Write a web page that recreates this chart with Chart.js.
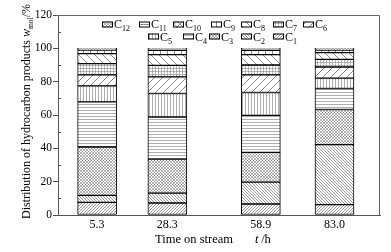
<!DOCTYPE html>
<html><head><meta charset="utf-8">
<script src="https://cdn.jsdelivr.net/npm/chart.js@4.4.0/dist/chart.umd.min.js"></script>
<style>html,body{margin:0;padding:0;background:#fff}#wrap{width:391px;height:252px}</style>
</head><body><div id="wrap"><canvas id="c" width="391" height="252"></canvas></div>
<script>
// ---- data ----
const categories = [5.3, 28.3, 58.9, 83.0];
const tickLabels = ['5.3', '28.3', '58.9', '83.0'];
const yTicks = [0, 20, 40, 60, 80, 100, 120];
const seriesNames = ['C1','C2','C3','C4','C5','C6','C7','C8','C9','C10','C11','C12'];
const C1  = [7.6, 7.2, 6.6, 6.2];
const C2  = [4.2, 5.9, 13.1, 36.0];
const C3  = [29.0, 20.4, 17.9, 21.1];
const C4  = [27.1, 25.3, 22.2, 12.6];
const C5  = [9.6, 14.1, 13.7, 6.2];
const C6  = [6.6, 10.0, 10.6, 6.7];
const C7  = [6.7, 6.9, 5.9, 4.6];
const C8  = [6.0, 6.4, 6.2, 4.0];
const C9  = [2.2, 2.6, 2.6, 1.6];
const C10 = [0.4, 0.5, 0.5, 0.4];
const C11 = [0.3, 0.4, 0.4, 0.3];
const C12 = [0.3, 0.3, 0.3, 0.3];
const seriesValues = [C1, C2, C3, C4, C5, C6, C7, C8, C9, C10, C11, C12];

// ---- patterns ----
function hatch(kinds, s, lw, col) {
  const cv = document.createElement('canvas'); cv.width = s; cv.height = s;
  const g = cv.getContext('2d');
  g.fillStyle = '#fff'; g.fillRect(0, 0, s, s);
  g.strokeStyle = col || '#555'; g.lineWidth = lw || 0.6;
  g.beginPath();
  for (const k of kinds) {
    for (let i = -1; i <= 1; i++) {
      if (k === '/') { g.moveTo(i * s, s); g.lineTo(i * s + s, 0); }
      if (k === '\\') { g.moveTo(i * s, 0); g.lineTo(i * s + s, s); }
    }
    if (k === '-') { g.moveTo(0, s - 0.5); g.lineTo(s, s - 0.5); }
    if (k === '|') { g.moveTo(s - 0.5, 0); g.lineTo(s - 0.5, s); }
  }
  g.stroke();
  return g.createPattern(cv, 'repeat');
}
const patterns = [
  hatch(['/'], 3, 0.6, '#555'),        // C1
  hatch(['\\'], 3, 0.6, '#555'),       // C2
  hatch(['/', '\\'], 3, 0.5, '#666'),  // C3
  hatch(['-'], 3, 0.6, '#777'),        // C4
  hatch(['|'], 3, 0.6, '#777'),        // C5
  hatch(['/'], 8, 0.7, '#555'),        // C6
  hatch(['-', '|'], 3, 0.5, '#777'),   // C7
  hatch(['\\'], 8, 0.7, '#555'),       // C8
  hatch(['|'], 7, 0.7, '#555'),        // C9
  hatch(['/', '\\'], 6, 0.6, '#555'),  // C10
  hatch(['-'], 5, 0.7, '#555'),        // C11
  hatch(['/', '\\'], 3, 0.5, '#666')   // C12
];

const FONT = 'Liberation Serif, Times New Roman, serif';

const datasets = seriesNames.map((n, i) => ({
  label: n,
  data: categories.map((x, j) => ({ x: x, y: seriesValues[i][j] })),
  backgroundColor: patterns[i],
  borderColor: '#000',
  borderWidth: 1,
  borderSkipped: false,
  barThickness: 39
}));

// legend layout (item box left x, row)
const legendLayout = {
  C12: [102, 0], C11: [139, 0], C10: [173, 0], C9: [211, 0], C8: [241, 0], C7: [273, 0], C6: [303, 0],
  C5: [148, 1], C4: [183, 1], C3: [209, 1], C2: [241, 1], C1: [273, 1]
};

const decor = {
  id: 'decor',
  afterDraw(chart) {
    const ctx = chart.ctx, a = chart.chartArea;
    const ys = chart.scales.y;
    ctx.save();
    // frame
    ctx.strokeStyle = '#666'; ctx.lineWidth = 1;
    ctx.beginPath();
    ctx.moveTo(a.left, a.top + 0.5); ctx.lineTo(a.right - 0.5, a.top + 0.5); ctx.lineTo(a.right - 0.5, a.bottom);
    ctx.stroke();
    // minor ticks (inward)
    ctx.strokeStyle = '#555';
    ctx.beginPath();
    for (let v = 10; v < 120; v += 20) {
      const y = Math.round(ys.getPixelForValue(v)) + 0.5;
      ctx.moveTo(a.left, y); ctx.lineTo(a.left + 3, y);
    }
    ctx.stroke();
    // legend
    ctx.fillStyle = '#000';
    ctx.textBaseline = 'alphabetic';
    chart.data.datasets.forEach((ds) => {
      const L = legendLayout[ds.label]; if (!L) return;
      const bx = L[0], row = L[1];
      const by = row === 0 ? 21.5 : 33.5;
      const base = row === 0 ? 28 : 40.5;
      ctx.fillStyle = ds.backgroundColor;
      ctx.fillRect(bx, by, 11, 6);
      ctx.strokeStyle = '#000'; ctx.lineWidth = 1;
      ctx.strokeRect(bx + 0.5, by + 0.5, 10, 5);
      ctx.fillStyle = '#000';
      ctx.font = '12px ' + FONT;
      ctx.fillText('C', bx + 12, base);
      const w = ctx.measureText('C').width;
      ctx.font = '8px ' + FONT;
      ctx.fillText(ds.label.slice(1), bx + 12 + w, base + 3);
    });
    // y title
    ctx.save();
    ctx.translate(30, 111.5);
    ctx.rotate(-Math.PI / 2);
    const parts = [
      ['Distribution of hydrocarbon products ', '12px ' + FONT, 0],
      ['w', 'italic 12px ' + FONT, 0],
      ['mol', '7.5px ' + FONT, 3],
      ['/%', '12px ' + FONT, 0]
    ];
    let tot = 0;
    parts.forEach(p => { ctx.font = p[1]; p.push(ctx.measureText(p[0]).width); tot += p[3]; });
    let x = -tot / 2;
    parts.forEach(p => { ctx.font = p[1]; ctx.fillText(p[0], x, p[2]); x += p[3]; });
    ctx.restore();
    // x title
    ctx.font = '12.5px ' + FONT;
    ctx.fillText('Time on stream', 155, 243);
    ctx.font = 'italic 12.5px ' + FONT;
    ctx.fillText('t', 255, 243);
    ctx.font = '12.5px ' + FONT;
    ctx.fillText(' /h', 258, 243);
    ctx.restore();
  }
};

new Chart(document.getElementById('c'), {
  type: 'bar',
  data: { datasets },
  options: {
    responsive: false,
    animation: false,
    devicePixelRatio: 1,
    layout: { padding: { left: 0, right: 11, top: 15, bottom: 0 } },
    plugins: { legend: { display: false }, tooltip: { enabled: false } },
    scales: {
      x: {
        type: 'linear', stacked: true, min: -7.5, max: 97.9, offset: false,
        afterBuildTicks: s => { s.ticks = categories.map(v => ({ value: v })); },
        ticks: {
          autoSkip: false, maxRotation: 0, padding: 3, color: '#000',
          font: { family: FONT, size: 12 },
          callback: (v) => { const i = categories.indexOf(v); return i >= 0 ? tickLabels[i] : ''; }
        },
        grid: { display: false, drawTicks: false },
        border: { display: true, color: '#555', width: 1 },
        afterFit: s => { s.height = 37; }
      },
      y: {
        stacked: true, min: 0, max: 120,
        afterBuildTicks: s => { s.ticks = yTicks.map(v => ({ value: v })); },
        ticks: { padding: 1, color: '#000', font: { family: FONT, size: 11.5 }, callback: v => String(v) },
        grid: { drawOnChartArea: false, drawTicks: true, tickLength: 5, color: '#555' },
        border: { display: true, color: '#555', width: 1 },
        afterFit: s => { s.width = 58; }
      }
    }
  },
  plugins: [decor]
});
</script>
</body></html>
